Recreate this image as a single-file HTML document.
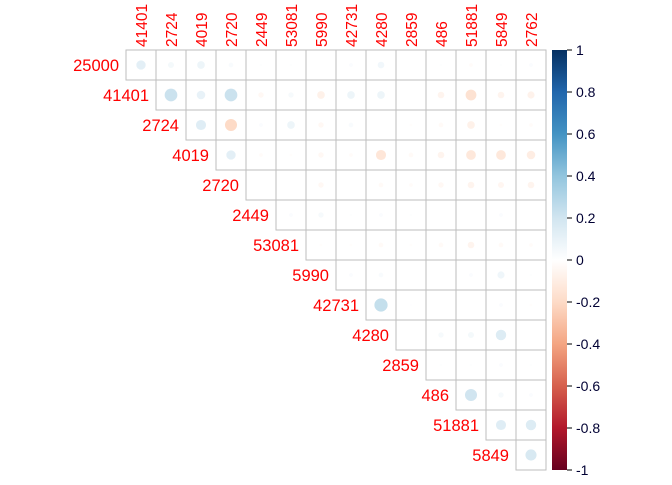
<!DOCTYPE html>
<html><head><meta charset="utf-8"><style>
body{margin:0;background:#fff;}
svg text{font-family:"Liberation Sans",sans-serif;}
</style></head><body>
<svg id="c" width="672" height="480">
<defs><linearGradient id="g" x1="0" y1="1" x2="0" y2="0">
<stop offset="0" stop-color="#67001F"/><stop offset="0.1" stop-color="#B2182B"/><stop offset="0.2" stop-color="#D6604D"/><stop offset="0.3" stop-color="#F4A582"/><stop offset="0.4" stop-color="#FDDBC7"/><stop offset="0.5" stop-color="#FFFFFF"/><stop offset="0.6" stop-color="#D1E5F0"/><stop offset="0.7" stop-color="#92C5DE"/><stop offset="0.8" stop-color="#4393C3"/><stop offset="0.9" stop-color="#2166AC"/><stop offset="1" stop-color="#053061"/>
</linearGradient></defs>
</svg>
<script>
const rowLabels=["25000","41401","2724","4019","2720","2449","53081","5990","42731","4280","2859","486","51881","5849"];
const colLabels=["41401","2724","4019","2720","2449","53081","5990","42731","4280","2859","486","51881","5849","2762"];
const row0=[0.12,0.05,0.08,0.03,0.01,0.01,0,0.02,0.06,0,0.01,-0.02,0.01,0.02];
const row1=[0.22,0.1,0.22,-0.04,0.04,-0.08,0.08,0.08,0,-0.06,-0.16,-0.06,-0.07];
const row2=[0.14,-0.2,0.02,0.08,-0.04,0.03,0,-0.01,-0.03,-0.08,-0.01,-0.02];
const row3=[0.12,-0.02,-0.01,-0.04,-0.02,-0.14,-0.03,-0.06,-0.13,-0.13,-0.1];
const row4=[0,0,-0.04,0,-0.03,-0.02,-0.04,-0.06,-0.05,-0.06];
const row5=[0.02,0.04,0.01,0.02,0.01,0,0,0.02,0];
const row6=[-0.01,-0.01,-0.03,-0.01,-0.03,-0.06,-0.03,-0.02];
const row7=[0.02,0.03,0,0,0.02,0.07,0.01];
const row8=[0.24,0.005,0,0,0.02,-0.01];
const row9=[0,0.04,0.05,0.15,0];
const row10=[0.01,0.01,0.02,0.01];
const row11=[0.2,0.04,0.02];
const row12=[0.14,0.15];
const row13=[0.17];
const rows=[row0,row1,row2,row3,row4,row5,row6,row7,row8,row9,row10,row11,row12,row13];
const ticks=[1,0.8,0.6,0.4,0.2,0,-0.2,-0.4,-0.6,-0.8,-1];

const NS="http://www.w3.org/2000/svg";
const svg=document.getElementById('c');
const X0=126,Y0=50,CS=30;
const xc=j=>X0+CS*j;
const yr=i=>Y0+CS*i;
const cbTop=50,cbBot=470;
const yv=v=>cbTop+(1-v)/2*(cbBot-cbTop);
const stops=[[-1,[103,0,31]],[-0.8,[178,24,43]],[-0.6,[214,96,77]],[-0.4,[244,165,130]],[-0.2,[253,219,199]],[0,[255,255,255]],[0.2,[209,229,240]],[0.4,[146,197,222]],[0.6,[67,147,195]],[0.8,[33,102,172]],[1,[5,48,97]]];
function col(v){for(let k=0;k<stops.length-1;k++){const a=stops[k],b=stops[k+1];if(v<=b[0]){const t=(v-a[0])/(b[0]-a[0]);return 'rgb('+a[1].map((c,m)=>Math.round(c+(b[1][m]-c)*t)).join(',')+')';}}return 'rgb(5,48,97)';}
function mk(tag,attrs){const e=document.createElementNS(NS,tag);for(const k in attrs)e.setAttribute(k,attrs[k]);svg.appendChild(e);return e;}

rows.forEach((r,i)=>{
  r.forEach((v,k)=>{
    const j=i+k;
    const cell=mk('rect',{x:xc(j),y:yr(i),width:CS,height:CS,fill:'none',stroke:'#bebebe','stroke-width':1});
    
    
    if(v!==0){
      const c=mk('circle',{cx:xc(j)+CS/2,cy:yr(i)+CS/2,r:13.5*Math.sqrt(Math.abs(v)),fill:col(v)});
      
      
    }
  });
  const t=mk('text',{x:xc(i)-7,y:yr(i)+CS/2+6,'text-anchor':'end','font-size':16.5,fill:'#ff0000'});
  t.textContent=rowLabels[i];
  
  
});
colLabels.forEach((l,j)=>{
  const cx=xc(j)+CS/2+6,cy=47;
  const t=mk('text',{x:cx,y:cy,transform:'rotate(-90 '+cx+' '+cy+')','font-size':15.5,fill:'#ff0000'});
  t.textContent=l;
  
  
});
const cb=mk('rect',{x:552,y:cbTop,width:15,height:cbBot-cbTop,fill:'url(#g)'});


ticks.forEach(v=>{
  const ln=mk('line',{x1:567,x2:572,y1:yv(v),y2:yv(v),stroke:'#000','stroke-width':1});
  
  
  const t=mk('text',{x:576,y:yv(v)+5,'font-size':14,fill:'#000033'});
  t.textContent=String(v);
  
  
});
</script>
</body></html>
